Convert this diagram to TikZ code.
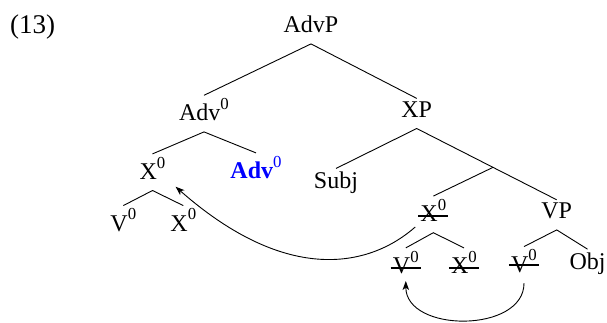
\documentclass[tikz,border=0pt]{standalone}
\usepackage{fontspec}
\setmainfont{Liberation Serif}
\usetikzlibrary{arrows.meta, calc}
\newcommand\zsup{\raisebox{0.46em}{\fontsize{16.8}{17}\fontseries{m}\selectfont 0}}

\begin{document}
\begin{tikzpicture}[x=1pt, y=-1pt,
    every node/.style={font=\fontsize{24}{29}\selectfont, inner xsep=2pt, inner ysep=3pt, text depth=8pt, anchor=base},
    branch/.style={line width=0.9pt},
    strike/.style={line width=1.7pt},
    move/.style={line width=0.9pt, -{Stealth[length=9pt, width=6.5pt, inset=2.5pt]}}]
    \useasboundingbox (0, 0) rectangle (607, 322);

    % example number
    \node[anchor=base west, inner sep=0pt, font=\fontsize{27}{32}\selectfont] (ex) at (10, 33) {(13)};

    % upper part
    \node (advp) at (311, 32.7) {AdvP};
    \node (adv) at (204, 120.7) {Adv\zsup};
    \node (xp) at (416.7, 117.3) {XP};
    \node (xa) at (152.5, 179.3) {X\zsup};
    \node[text=blue] (advb) at (256, 178.3) {\bfseries Adv\zsup};
    \node (subj) at (336, 188.3) {Subj};
    \node (va) at (123.3, 231) {V\zsup};
    \node (xb) at (183.3, 231) {X\zsup};

    % lower right part
    \node (xs) at (433.3, 221.5) {X\zsup};
    \node (vp) at (556.7, 218.7) {VP};
    \node (vs1) at (405.8, 273.3) {V\zsup};
    \node (xs2) at (464, 273.3) {X\zsup};
    \node (vs2) at (524, 272) {V\zsup};
    \node (obj) at (587.5, 269) {Obj};

    % branches
    \draw[branch] (adv.north) -- (advp.south) -- (xp.north);
    \draw[branch] (xa.north) -- (adv.south) -- (advb.north);
    \draw[branch] (va.north) -- (xa.south) -- (xb.north);
    \draw[branch] (subj.north) -- (xp.south) -- (vp.north);
    \coordinate (xbar) at ($(xp.south)!0.545!(vp.north)$);
    \draw[branch] (xbar) -- (xs.north);
    \draw[branch] (vs1.north) -- (xs.south) -- (xs2.north);
    \draw[branch] (vs2.north) -- (vp.south) -- (obj.north);

    % traces
    \foreach \n in {xs, vs1, xs2}
        \draw[strike] ([yshift=5.5pt]\n.base west) -- ([yshift=5.5pt]\n.base east);
    \draw[strike, line width=2.8pt] ([yshift=7pt]vs2.base west) -- ([yshift=7pt]vs2.base east);

    % movement
    \draw[move] ([shift={(-3,5.5)}]xs.base west) .. controls +(-45,39.6) and +(112.5,99) .. ([shift={(8,7.4)}]xa.base east);
    \draw[move] (vs2.south) .. controls +(0,50) and +(0,52) .. ([yshift=3.5pt]vs1.south);
\end{tikzpicture}
\end{document}
